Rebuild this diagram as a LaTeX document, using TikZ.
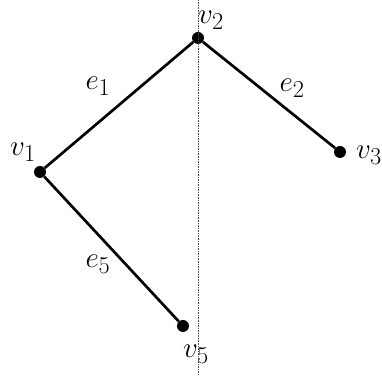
\documentclass[tikz,border=0pt]{standalone}
\usepackage{amsmath,amssymb}
\usetikzlibrary{positioning,calc}

\begin{document}
\begin{tikzpicture}[
    x=0.03cm, y=-0.03cm,
    vtx/.style={circle, fill=black, minimum size=3.6mm, inner sep=0pt},
    lbl/.style={font=\Huge, inner sep=0pt},
    link/.style={line width=2.3pt},
    axis/.style={densely dotted, thin, black!70}
  ]
  \useasboundingbox (0,0) rectangle (382,376);
  \clip (0,0) rectangle (382,376);

  % vertices
  \node[vtx] (v2) at (198,38) {};
  \node[vtx] (v1) at (40,172) {};
  \node[vtx] (v3) at (340,152) {};
  \node[vtx] (v5) at (183,326) {};

  % vertex labels
  \node[lbl] (lv2) at (211,20) {$v_2$};
  \node[lbl] (lv1) at (23,152) {$v_1$};
  \node[lbl, anchor=west] (lv3) at (356,155) {$v_3$};
  \node[lbl] (lv5) at (196,354) {$v_5$};

  % axis
  \coordinate (top) at (198,0);
  \coordinate (bot) at (198,376);
  \draw[axis] (top) -- (bot);

  % edges
  \draw[link] (v1) -- (v2);
  \draw[link] (v2) -- (v3);
  \draw[link] (v1) -- (v5);
  \node[lbl] (le1) at (98,86) {$e_1$};
  \node[lbl] (le2) at (292,88) {$e_2$};
  \node[lbl] (le5) at (98,264) {$e_5$};
\end{tikzpicture}
\end{document}
